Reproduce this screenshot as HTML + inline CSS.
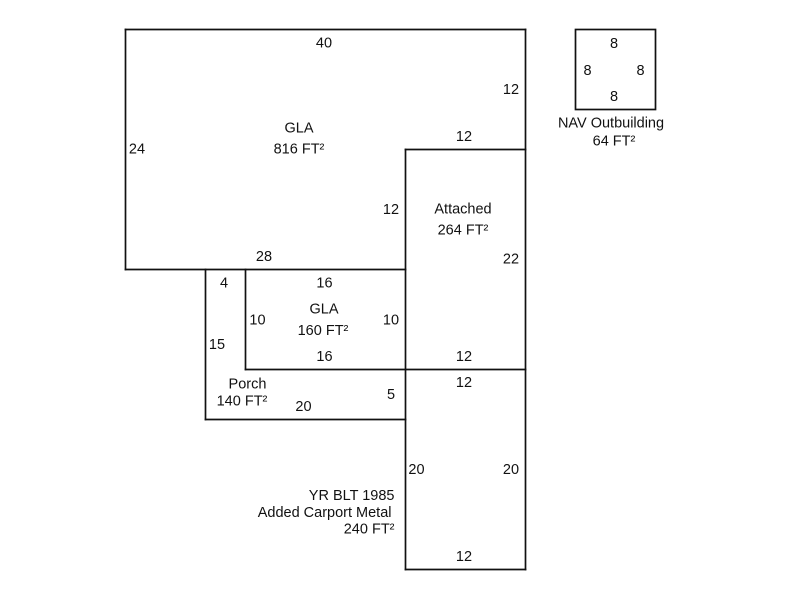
<!DOCTYPE html>
<html>
<head>
<meta charset="utf-8">
<style>
  html, body { margin: 0; padding: 0; background: #ffffff; }
  svg { display: block; }
  text { font-family: "Liberation Sans", Arial, sans-serif; font-size: 14.5px; fill: #111; }
</style>
</head>
<body>
<svg width="800" height="600" viewBox="0 0 800 600" xmlns="http://www.w3.org/2000/svg">
  <g stroke="#111" stroke-width="1.7" fill="none" stroke-linecap="square">
    <!-- main GLA -->
    <line x1="125.5" y1="29.5" x2="525.5" y2="29.5"/>
    <line x1="125.5" y1="29.5" x2="125.5" y2="269.5"/>
    <line x1="525.5" y1="29.5" x2="525.5" y2="569.5"/>
    <line x1="405.5" y1="149.5" x2="525.5" y2="149.5"/>
    <line x1="405.5" y1="149.5" x2="405.5" y2="569.5"/>
    <line x1="125.5" y1="269.5" x2="405.5" y2="269.5"/>
    <!-- porch / small GLA -->
    <line x1="205.5" y1="269.5" x2="205.5" y2="419.5"/>
    <line x1="245.5" y1="269.5" x2="245.5" y2="369.5"/>
    <line x1="245.5" y1="369.5" x2="525.5" y2="369.5"/>
    <line x1="205.5" y1="419.5" x2="405.5" y2="419.5"/>
    <line x1="405.5" y1="569.5" x2="525.5" y2="569.5"/>
    <!-- outbuilding -->
    <rect x="575.5" y="29.5" width="80" height="80"/>
  </g>

  <g text-anchor="middle">
    <text x="324" y="47.5">40</text>
    <text x="511" y="94">12</text>
    <text x="299" y="132.5">GLA</text>
    <text x="299" y="153.5">816 FT²</text>
    <text x="137" y="153.5">24</text>
    <text x="464" y="141">12</text>
    <text x="391" y="214">12</text>
    <text x="463" y="213.5">Attached</text>
    <text x="463" y="234.5">264 FT²</text>
    <text x="511" y="263.5">22</text>
    <text x="264" y="261">28</text>

    <text x="224" y="287.5">4</text>
    <text x="324.5" y="287.5">16</text>
    <text x="324" y="313.5">GLA</text>
    <text x="323" y="335">160 FT²</text>
    <text x="257.5" y="324.5">10</text>
    <text x="391" y="324.5">10</text>
    <text x="217" y="349">15</text>
    <text x="324.5" y="361">16</text>
    <text x="464" y="361">12</text>
    <text x="464" y="387">12</text>
    <text x="247.5" y="388.5">Porch</text>
    <text x="242" y="405.5">140 FT²</text>
    <text x="303.5" y="411">20</text>
    <text x="391" y="399">5</text>
    <text x="416.5" y="474">20</text>
    <text x="511" y="474">20</text>
    <text x="464" y="561">12</text>

    <text x="614" y="48">8</text>
    <text x="587.5" y="75">8</text>
    <text x="640.5" y="75">8</text>
    <text x="614" y="101">8</text>
    <text x="611" y="127.5">NAV Outbuilding</text>
    <text x="614" y="145.5">64 FT²</text>
  </g>

  <g text-anchor="end">
    <text x="394.5" y="500">YR BLT 1985</text>
    <text x="391.5" y="517">Added Carport Metal</text>
    <text x="394.5" y="533.5">240 FT²</text>
  </g>
</svg>
</body>
</html>
